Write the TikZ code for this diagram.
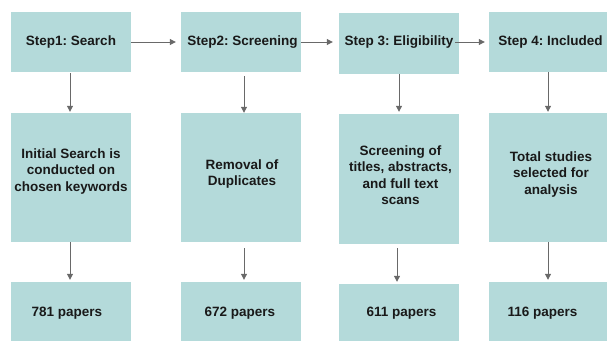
\documentclass[tikz,border=0pt]{standalone}
\usepackage{fontspec}
\setmainfont{Liberation Sans}
\usetikzlibrary{arrows.meta}
\definecolor{boxfill}{RGB}{180,218,218}
\definecolor{arrgray}{RGB}{105,105,105}
\definecolor{txt}{RGB}{25,25,25}
\frenchspacing
\begin{document}
\begin{tikzpicture}[x=1pt,y=-1pt,
  box/.style={draw=none,fill=boxfill,minimum width=#1,inner sep=0pt,anchor=center},
  box/.default=120pt,
  lbl/.style={text=txt,font=\bfseries\fontsize{13.5}{16.5}\selectfont,align=center,inner sep=0pt},
  arr/.style={draw=arrgray,line width=1pt,-{Triangle[length=6pt,width=6pt]}}]
\useasboundingbox (0,0) rectangle (607,340);
% top row
\node[box,minimum height=60pt] (s1) at (71,42) {};
\node[box,minimum height=60pt] (s2) at (241,42) {};
\node[box,minimum height=61pt] (s3) at (399,43.5) {};
\node[box=124pt,minimum height=60pt] (s4) at (551,42) {};
% middle row
\node[box,minimum height=129pt] (m1) at (71,177.5) {};
\node[box,minimum height=129pt] (m2) at (241,177.5) {};
\node[box,minimum height=130pt] (m3) at (399,179) {};
\node[box=124pt,minimum height=129pt] (m4) at (551,177.5) {};
% bottom row
\node[box,minimum height=63pt] (b1) at (71,313.5) {};
\node[box,minimum height=63pt] (b2) at (241,313.5) {};
\node[box,minimum height=61pt] (b3) at (399,314.5) {};
\node[box=124pt,minimum height=63pt] (b4) at (551,313.5) {};
% texts
\node[lbl] (ts1) at (71,42) {Step1: Search};
\node[lbl] (ts2) at (242.5,42) {Step2: Screening};
\node[lbl] (ts3) at (399,42.5) {Step 3: Eligibility};
\node[lbl] (ts4) at (550.5,42) {Step 4: Included};
\node[lbl] (tm1) at (71,171.5) {Initial Search is\\conducted on\\chosen keywords};
\node[lbl] (tm2) at (242,174) {Removal of\\Duplicates};
\node[lbl] (tm3) at (400.5,175) {Screening of\\titles, abstracts,\\and full text\\scans};
\node[lbl] (tm4) at (551,174.5) {Total studies\\selected for\\analysis};
\node[lbl] (tb1) at (67,313) {781 papers};
\node[lbl] (tb2) at (240,313) {672 papers};
\node[lbl] (tb3) at (401.5,313) {611 papers};
\node[lbl] (tb4) at (542.5,313) {116 papers};
% horizontal arrows
\draw[arr,shorten >=5pt] (s1.east) -- (s2.west);
\draw[arr,shorten >=6pt] (s2.east) -- (s3.west |- s2.east);
\draw[arr,shorten >=4pt,shorten <=-4pt] (s3.east |- s2.east) -- (s4.west);
% vertical arrows
\draw[arr,shorten <=1pt,shorten >=1pt] ([xshift=-1pt]s1.south) -- ([xshift=-1pt]m1.north);
\draw[arr,shorten <=4pt] ([xshift=3pt]s2.south) -- ([xshift=3pt]m2.north);
\draw[arr,shorten >=2pt] (s3.south) -- (m3.north);
\draw[arr,shorten >=1pt] ([xshift=-3pt]s4.south) -- ([xshift=-3pt]m4.north);
\draw[arr,shorten >=2pt] ([xshift=-1pt]m1.south) -- ([xshift=-1pt]b1.north);
\draw[arr,shorten <=6pt,shorten >=2pt] ([xshift=3pt]m2.south) -- ([xshift=3pt]b2.north);
\draw[arr,shorten <=4pt,shorten >=2pt] ([xshift=-2pt]m3.south) -- ([xshift=-2pt]b3.north);
\draw[arr,shorten >=2pt] ([xshift=-3pt]m4.south) -- ([xshift=-3pt]b4.north);
\end{tikzpicture}
\end{document}
